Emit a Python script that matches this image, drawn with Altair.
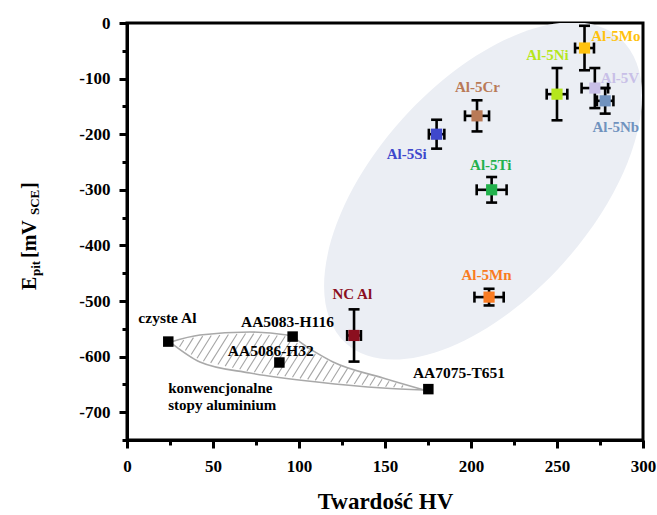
import math
import altair as alt
import pandas as pd

# ---------------- data ----------------
# nanocrystalline alloys (coloured)
alloy_names = ["NC Al", "Al-5Mn", "Al-5Ti", "Al-5Si", "Al-5Cr", "Al-5Ni", "Al-5Mo", "Al-5V", "Al-5Nb"]
alloy_hv = [132, 210.5, 212, 180, 203.5, 250, 266, 272, 278]
alloy_epit = [-562, -493, -300, -200, -167, -128, -45, -117, -140]
alloy_hv_err = [4, 8.5, 8.7, 4.5, 7, 6, 5.5, 7.7, 4.8]
alloy_epit_err = [47, 15, 23, 26, 28, 47, 40, 36, 23]
alloy_colors = ["#8b0f1f", "#f97b22", "#22b14c", "#3f48cc", "#b97a57", "#b5e61d", "#ffc20e", "#c8bfe7", "#7092be"]
alloy_label_colors = ["#8b1a2e", "#f08a4b", "#2db457", "#4a4fd0", "#c08a6a", "#b8e32a", "#f5b800", "#c4bce0", "#7896c0"]
alloy_label_hv = [131, 209, 211.5, 162.6, 203.8, 244.5, 284.2, 286.6, 284.2]
alloy_label_epit = [-487, -453, -255, -235.5, -114.5, -57.5, -23.4, -99, -186.4]

# conventional alloys (black)
conv_names = ["czyste Al", "AA5083-H116", "AA5086-H32", "AA7075-T651"]
conv_hv = [24, 96.3, 88.6, 175.2]
conv_epit = [-573, -564, -610.6, -658.5]
conv_label_hv = [23.5, 93.3, 83.6, 193]
conv_label_epit = [-530, -537, -589.6, -629]

group_note = ["konwencjonalne", "stopy aluminium"]
group_note_hv = [24, 24]
group_note_epit = [-657, -687]

# outline of the "conventional alloys" lens (data units)
lens_upper_hv = [25, 42.4, 71.5, 93.0, 106.4, 119.8, 148.8, 172.7]
lens_upper_epit = [-574, -561.2, -555.8, -561.2, -586.3, -609.7, -638.5, -660.1]
lens_lower_hv = [25, 42.4, 71.5, 110.5, 148.8, 172.7]
lens_lower_epit = [-574, -609.7, -629.5, -645.7, -656.5, -660.1]

# shaded ellipse around the nanocrystalline alloys (centre)
ellipse_hv = [207]
ellipse_epit = [-302]

x_tick_values = [0, 25, 50, 75, 100, 125, 150, 175, 200, 225, 250, 275, 300]
y_tick_values = [0, -50, -100, -150, -200, -250, -300, -350, -400, -450, -500,
                 -550, -600, -650, -700, -750]

W, H = 516, 417
X_DOMAIN = [0, 300]
Y_DOMAIN = [-750, 0]
FONT = "Liberation Serif"

# ---------------- tables ----------------
alloys = pd.DataFrame({
    "name": alloy_names, "hv": alloy_hv, "epit": alloy_epit,
    "ehv": alloy_hv_err, "eep": alloy_epit_err,
})
alloy_labels = pd.DataFrame({"name": alloy_names, "hv": alloy_label_hv, "epit": alloy_label_epit})
conv = pd.DataFrame({"name": conv_names, "hv": conv_hv, "epit": conv_epit})
conv_labels = pd.DataFrame({"name": conv_names, "hv": conv_label_hv, "epit": conv_label_epit})
note = pd.DataFrame({"name": group_note, "hv": group_note_hv, "epit": group_note_epit})
lens = pd.concat([
    pd.DataFrame({"side": "upper", "hv": lens_upper_hv, "epit": lens_upper_epit}),
    pd.DataFrame({"side": "lower", "hv": lens_lower_hv, "epit": lens_lower_epit}),
])
ell = pd.DataFrame({"hv": ellipse_hv, "epit": ellipse_epit})

# hatch strokes inside the lens (geometry derived from the outline)
sx = W / (X_DOMAIN[1] - X_DOMAIN[0])
sy = H / (Y_DOMAIN[1] - Y_DOMAIN[0])
poly = [(x * sx, -y * sy) for x, y in zip(lens_upper_hv, lens_upper_epit)]
poly += [(x * sx, -y * sy) for x, y in zip(lens_lower_hv[::-1][1:-1], lens_lower_epit[::-1][1:-1])]
ang = math.radians(58)
dvec = (math.cos(ang), -math.sin(ang))
nvec = (math.sin(ang), math.cos(ang))
proj = [p[0] * nvec[0] + p[1] * nvec[1] for p in poly]
spacing = 7.0
segs = []
c = min(proj) + spacing / 2
while c < max(proj):
    pts = []
    for i in range(len(poly)):
        p, q = poly[i], poly[(i + 1) % len(poly)]
        fp = p[0] * nvec[0] + p[1] * nvec[1] - c
        fq = q[0] * nvec[0] + q[1] * nvec[1] - c
        if fp * fq < 0:
            t = fp / (fp - fq)
            pts.append((p[0] + t * (q[0] - p[0]), p[1] + t * (q[1] - p[1])))
    pts.sort(key=lambda p: p[0] * dvec[0] + p[1] * dvec[1])
    for j in range(0, len(pts) - 1, 2):
        a, b = pts[j], pts[j + 1]
        L = math.hypot(b[0] - a[0], b[1] - a[1])
        if L > 4:
            sh = 1.5 / L
            a2 = (a[0] + sh * (b[0] - a[0]), a[1] + sh * (b[1] - a[1]))
            b2 = (b[0] - sh * (b[0] - a[0]), b[1] - sh * (b[1] - a[1]))
            segs.append({"hv": a2[0] / sx, "epit": -a2[1] / sy,
                         "hv2": b2[0] / sx, "epit2": -b2[1] / sy})
    c += spacing
hatch = pd.DataFrame(segs)

# ---------------- encodings ----------------
xs = alt.Scale(domain=X_DOMAIN, nice=False, zero=False)
ys = alt.Scale(domain=Y_DOMAIN, nice=False, zero=False)
x_axis = alt.Axis(
    values=x_tick_values,
    labelExpr="datum.value % 50 === 0 ? '' + datum.value : ''",
    tickSize={"condition": {"test": "datum.value % 50 === 0", "value": 8}, "value": 5},
    title="Twardość HV",
    grid=False, labelFlush=False, labelOverlap=False, labelPadding=10, titlePadding=16,
)
y_axis = alt.Axis(
    values=y_tick_values,
    labelExpr="datum.value % 100 === 0 ? '' + datum.value : ''",
    tickSize={"condition": {"test": "datum.value % 100 === 0", "value": 8}, "value": 5},
    title=None,
    grid=False, labelFlush=False, labelOverlap=False, labelPadding=9,
)


def X(field):
    return alt.X(field, type="quantitative", scale=xs, axis=x_axis)


def Y(field):
    return alt.Y(field, type="quantitative", scale=ys, axis=y_axis)


# unit ellipse (semi-axes 1 and 0.527) drawn as a custom point symbol
ellipse_path = ("M 1 0 C 1 0.291 0.5523 0.527 0 0.527 C -0.5523 0.527 -1 0.291 -1 0 "
                "C -1 -0.291 -0.5523 -0.527 0 -0.527 C 0.5523 -0.527 1 -0.291 1 0 Z")
ellipse_layer = alt.Chart(ell).mark_point(
    shape=ellipse_path, filled=True, fill="#ebeef4", opacity=1, strokeWidth=0,
    angle=312, size=168100, clip=True,
).encode(x=X("hv"), y=Y("epit"))

lens_layer = alt.Chart(lens).mark_line(
    color="#a9a9a9", strokeWidth=1.6, interpolate="monotone"
).encode(x=X("hv"), y=Y("epit"), detail="side:N")

hatch_layer = alt.Chart(hatch).mark_rule(color="#a5a5a5", strokeWidth=1.1).encode(
    x=X("hv"), y=Y("epit"), x2="hv2", y2="epit2"
)

base_a = alt.Chart(alloys).transform_calculate(
    ylo="datum.epit - datum.eep", yhi="datum.epit + datum.eep",
    xlo="datum.hv - datum.ehv", xhi="datum.hv + datum.ehv",
)
vbar = base_a.mark_rule(color="black", strokeWidth=2.6).encode(x=X("hv"), y=Y("ylo:Q"), y2="yhi:Q")
hbar = base_a.mark_rule(color="black", strokeWidth=2.6).encode(x=X("xlo:Q"), x2="xhi:Q", y=Y("epit"))
cap_lo = base_a.mark_tick(orient="horizontal", size=11, thickness=2.6, color="black", opacity=1).encode(
    x=X("hv"), y=Y("ylo:Q"))
cap_hi = base_a.mark_tick(orient="horizontal", size=11, thickness=2.6, color="black", opacity=1).encode(
    x=X("hv"), y=Y("yhi:Q"))
cap_l = base_a.mark_tick(orient="vertical", size=11, thickness=2.6, color="black", opacity=1).encode(
    x=X("xlo:Q"), y=Y("epit"))
cap_r = base_a.mark_tick(orient="vertical", size=11, thickness=2.6, color="black", opacity=1).encode(
    x=X("xhi:Q"), y=Y("epit"))

color_scale = alt.Scale(domain=alloy_names, range=alloy_colors)
label_scale = alt.Scale(domain=alloy_names, range=alloy_label_colors)

alloy_marks = alt.Chart(alloys).mark_square(size=125, opacity=1).encode(
    x=X("hv"), y=Y("epit"), color=alt.Color("name:N", scale=color_scale, legend=None)
)
alloy_text = alt.Chart(alloy_labels).mark_text(
    font=FONT, fontWeight="bold", fontSize=15, baseline="middle"
).encode(
    x=X("hv"), y=Y("epit"), text="name:N",
    color=alt.Color("name:N", scale=label_scale, legend=None),
)

conv_marks = alt.Chart(conv).mark_square(size=110, opacity=1, color="black").encode(
    x=X("hv"), y=Y("epit"))
conv_text = alt.Chart(conv_labels).mark_text(
    font=FONT, fontWeight="bold", fontSize=15.5, baseline="middle", color="black"
).encode(x=X("hv"), y=Y("epit"), text="name:N")
note_text = alt.Chart(note).mark_text(
    font=FONT, fontWeight="bold", fontSize=15, baseline="middle", align="left", color="black"
).encode(x=X("hv"), y=Y("epit"), text="name:N")

# composed y-axis title  E_pit [mV_SCE]
one = pd.DataFrame({"k": [0]})
title_parts = []
for txt, fs, xp, yp in [("E", 20, -91, 267), ("pit", 13, -87, 253), ("[mV", 20, -91, 235),
                        ("SCE", 13, -88, 192), ("]", 20, -91, 166)]:
    title_parts.append(
        alt.Chart(one).mark_text(
            font=FONT, fontWeight="bold", fontSize=fs, angle=270, align="left",
            baseline="alphabetic", color="black",
        ).encode(x=alt.value(xp), y=alt.value(yp), text=alt.value(txt))
    )

chart = alt.layer(
    ellipse_layer, lens_layer, hatch_layer,
    vbar, hbar, cap_lo, cap_hi, cap_l, cap_r,
    alloy_marks, conv_marks, alloy_text, conv_text, note_text,
    *title_parts,
).properties(
    width=W, height=H,
    autosize=alt.AutoSizeParams(type="none"),
    padding={"left": 127, "top": 23, "right": 14, "bottom": 75},
    background="white",
).configure_view(
    stroke="black", strokeWidth=3,
).configure_axis(
    labelFont=FONT, labelFontWeight="bold", labelFontSize=17, labelColor="black",
    titleFont=FONT, titleFontWeight="bold", titleFontSize=23, titleColor="black",
    domainColor="black", domainWidth=3, tickColor="black", tickWidth=3,
)

chart.save("out.html", embed_options={"renderer": "svg", "actions": False})
